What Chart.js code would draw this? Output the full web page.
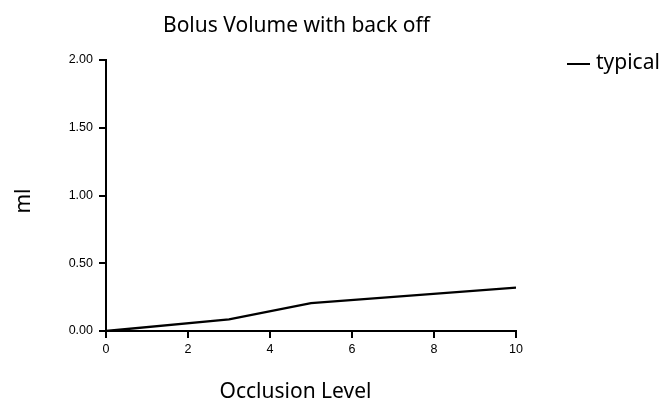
<!DOCTYPE html>
<html><head><meta charset="utf-8">
<script src="https://cdn.jsdelivr.net/npm/chart.js@4"></script>
<style>html,body{margin:0;padding:0;background:#fff}#wrap{width:664px;height:402px}</style>
</head><body><div id="wrap"><canvas id="c" width="664" height="402"></canvas></div>
<script>
const occlusionLevels = [0, 3, 5, 10];
const typicalVolume = [0, 0.086, 0.206, 0.32];
const xTicks = [0, 2, 4, 6, 8, 10];
const yTicks = [0, 0.5, 1.0, 1.5, 2.0];
const chartTitle = 'Bolus Volume with back off';
const xTitle = 'Occlusion Level';
const yTitle = 'ml';
const seriesName = 'typical';

const labelFont = '"Noto Sans", "Open Sans", sans-serif';
const tickFont = { family: '"Liberation Sans", Arial, sans-serif', size: 12.5 };

const textPlugin = {
  id: 'texts',
  afterDraw(chart) {
    const ctx = chart.ctx;
    ctx.save();
    ctx.fillStyle = '#000';
    ctx.font = '21px ' + labelFont;
    ctx.textAlign = 'center';
    ctx.textBaseline = 'alphabetic';
    ctx.fillText(chartTitle, 296.5, 32);
    ctx.fillText(xTitle, 295.5, 398);
    ctx.save();
    ctx.translate(30, 201);
    ctx.rotate(-Math.PI / 2);
    ctx.fillText(yTitle, 0, 0);
    ctx.restore();
    // legend
    ctx.strokeStyle = '#000';
    ctx.lineWidth = 2;
    ctx.beginPath();
    ctx.moveTo(567, 64);
    ctx.lineTo(590, 64);
    ctx.stroke();
    ctx.textAlign = 'left';
    ctx.fillText(chart.data.datasets[0].label, 596, 69);
    ctx.restore();
  }
};

new Chart(document.getElementById('c'), {
  type: 'line',
  data: {
    datasets: [{
      label: seriesName,
      data: occlusionLevels.map((x, i) => ({ x, y: typicalVolume[i] })),
      borderColor: '#000',
      borderWidth: 2.4,
      pointRadius: 0,
      tension: 0,
      fill: false
    }]
  },
  options: {
    responsive: false,
    animation: false,
    devicePixelRatio: 1,
    layout: { padding: { left: 0, right: 148, top: 60, bottom: 0 } },
    plugins: { legend: { display: false }, title: { display: false }, tooltip: { enabled: false } },
    scales: {
      x: {
        type: 'linear', min: 0, max: 10,
        afterBuildTicks(s) { s.ticks = xTicks.map(v => ({ value: v })); },
        afterFit(s) { s.height = 71; },
        grid: { display: true, drawOnChartArea: false, drawTicks: true, tickLength: 7, color: '#000', lineWidth: 2 },
        border: { display: true, color: '#000', width: 2 },
        ticks: { color: '#000', font: tickFont, padding: 4, maxRotation: 0, callback: v => String(v) }
      },
      y: {
        type: 'linear', min: 0, max: 2,
        afterBuildTicks(s) { s.ticks = yTicks.map(v => ({ value: v })); },
        afterFit(s) { s.width = 106; },
        grid: { display: true, drawOnChartArea: false, drawTicks: true, tickLength: 7, color: '#000', lineWidth: 2 },
        border: { display: true, color: '#000', width: 2 },
        ticks: { color: '#000', font: tickFont, padding: 6, callback: v => Number(v).toFixed(2) }
      }
    }
  },
  plugins: [textPlugin]
});
</script></body></html>
